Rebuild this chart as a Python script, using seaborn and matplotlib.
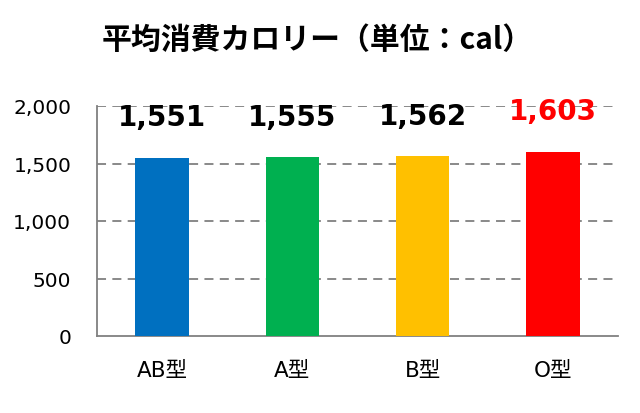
import matplotlib
matplotlib.use("Agg")
import matplotlib.pyplot as plt
import seaborn as sns
import pandas as pd
from matplotlib.ticker import FixedLocator, FuncFormatter

categories = ["AB型", "A型", "B型", "O型"]
values = [1551, 1555, 1562, 1603]
bar_colors = ["#0070C0", "#00B050", "#FFC000", "#FF0000"]
label_colors = ["#000000", "#000000", "#000000", "#FF0000"]
yticks = [0, 500, 1000, 1500, 2000]
title = "平均消費カロリー（単位：cal）"

sns.set_style("white")
plt.rcParams["font.family"] = ["DejaVu Sans", "Noto Sans CJK JP"]
plt.rcParams["text.color"] = "#000000"

df = pd.DataFrame({"cat": categories, "val": values})

fig = plt.figure(figsize=(6.4, 4.14), dpi=100)
ax = fig.add_axes([97/640, 1-337/414, (618-97)/640, (337-107)/414])

sns.barplot(data=df, x="cat", y="val", hue="cat", palette=bar_colors,
            width=0.41, ax=ax, legend=False, saturation=1, zorder=3, linewidth=0)

ax.set_xlim(-0.5, 3.5)
ax.set_ylim(0, 2000)
ax.set_yticks(yticks)
ax.yaxis.set_major_formatter(FuncFormatter(lambda v, p: f"{int(v):,}"))
ax.set_xlabel("")
ax.set_ylabel("")

gc = "#808080"
for y in yticks[1:]:
    ax.axhline(y, color=gc, lw=1.3, ls=(0, (5, 3.5)), zorder=1)

for s in ["top", "right"]:
    ax.spines[s].set_visible(False)
for s in ["left", "bottom"]:
    ax.spines[s].set_color(gc)
    ax.spines[s].set_linewidth(1.3)

ax.tick_params(axis="y", length=6.5, width=1.3, color=gc, pad=12, labelsize=14.5, labelcolor="#000000")
ax.tick_params(axis="x", which="major", length=0, pad=17, labelsize=15.5, labelcolor="#000000")
ax.xaxis.set_minor_locator(FixedLocator([-0.5, 0.5, 1.5, 2.5, 3.5]))
ax.tick_params(axis="x", which="minor", length=4.5, width=1.3, color=gc)

for i, (v, c) in enumerate(zip(values, label_colors)):
    ax.annotate(f"{v:,}", xy=(i, v), xytext=(0, 29), textcoords="offset points",
                ha="center", va="center", fontsize=20, fontweight="bold",
                color=c, annotation_clip=False)

fig.text(317/640, 1-40/414, title, ha="center", va="center", fontsize=21.5,
         fontweight="bold", color="#000000", family=["Noto Sans CJK JP", "DejaVu Sans"])

fig.savefig("out.png", dpi=100)
